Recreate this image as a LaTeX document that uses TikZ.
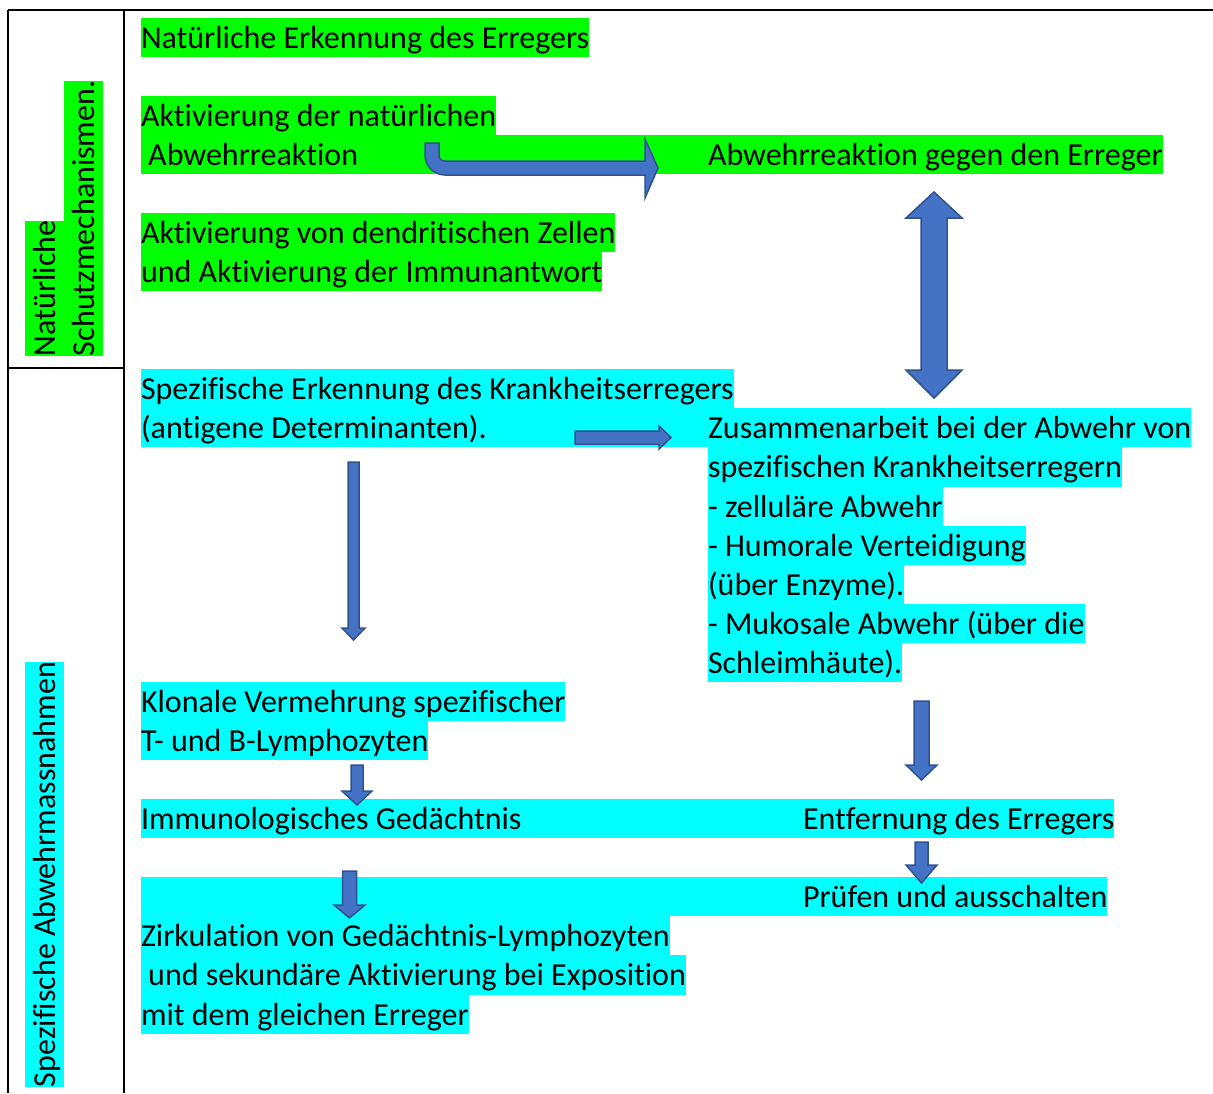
\documentclass[tikz,border=0pt]{standalone}
\usepackage{fontspec}
\setmainfont{Carlito}[Ligatures={NoCommon}]
\usetikzlibrary{backgrounds}
\definecolor{hlgreen}{RGB}{0,255,0}
\definecolor{hlcyan}{RGB}{0,255,255}
\definecolor{arrfill}{HTML}{4472C4}
\definecolor{arrline}{HTML}{2F528F}
\tikzset{
  txt/.style={inner sep=0pt, outer sep=0pt, anchor=base west, text height=30.5pt, text depth=8.6pt, font=\fontsize{32}{39}\selectfont},
  gtxt/.style={txt, fill=hlgreen},
  ctxt/.style={txt, fill=hlcyan},
  blockarrow/.style={fill=arrfill, draw=arrline, line width=1.5pt, line join=miter},
  rule/.style={line width=1.4pt, black}
}
\newcommand{\dnarr}[6]{% cx, shaft half, top, headbase, head half, tip
  \filldraw[blockarrow] ({#1-#2},#3) -- ({#1+#2},#3) -- ({#1+#2},#4) -- ({#1+#5},#4) -- (#1,#6) -- ({#1-#5},#4) -- ({#1-#2},#4) -- cycle;}
\begin{document}
\begin{tikzpicture}[x=1pt,y=-1pt]
\useasboundingbox (0,0) rectangle (1213,1093);
% table rules
\draw[rule] (8,10) -- (1213,10);
\draw[rule] (8,10) -- (8,1093);
\draw[rule] (124,10) -- (124,1093);
\draw[rule] (8,368) -- (124,368);
% row headers
\node[gtxt, rotate=90] (h1a) at (55.5,356) {Natürliche};
\node[gtxt, rotate=90] (h1b) at (94.5,356) {Schutzmechanismen.};
\node[ctxt, rotate=90] (h2) at (55.5,1087) {Spezifische Abwehrmassnahmen};
% green block
\node[gtxt] (g1) at (141,48) {Natürliche Erkennung des Erregers};
\node[gtxt] (g2) at (141,126.2) {Aktivierung der natürlichen};
\node[txt] (g3a) at (141,165.2) {\ Abwehrreaktion};
\node[txt] (g3b) at (708,165.2) {Abwehrreaktion gegen den Erreger};
\node[gtxt] (g4) at (141,243.4) {Aktivierung von dendritischen Zellen};
\node[gtxt] (g5) at (141,282.5) {und Aktivierung der Immunantwort};
% cyan block
\node[ctxt] (c1) at (141,399.7) {Spezifische Erkennung des Krankheitserregers};
\node[txt] (c2) at (141,438.8) {(antigene Determinanten).};
\node[txt] (r1) at (708,438.8) {Zusammenarbeit bei der Abwehr von};
\node[ctxt] (r2) at (708,477.9) {spezifischen Krankheitserregern};
\node[ctxt] (r3) at (708,517) {- zelluläre Abwehr};
\node[ctxt] (r4) at (708,556) {- Humorale Verteidigung};
\node[ctxt] (r5) at (708,595.1) {(über Enzyme).};
\node[ctxt] (r6) at (708,634.2) {- Mukosale Abwehr (über die};
\node[ctxt] (r7) at (708,673.3) {Schleimhäute).};
\node[ctxt] (k1) at (141,712.4) {Klonale Vermehrung spezifischer};
\node[ctxt] (k2) at (141,751.4) {T- und B-Lymphozyten};
\node[txt] (m1) at (141,829.6) {Immunologisches Gedächtnis};
\node[txt] (e1) at (803,829.6) {Entfernung des Erregers};
\coordinate (p0) at (141,907.8);
\node[txt] (p1) at (803,907.8) {Prüfen und ausschalten};
\node[ctxt] (z1) at (141,946.8) {Zirkulation von Gedächtnis-Lymphozyten};
\node[ctxt] (z2) at (141,985.9) {\ und sekundäre Aktivierung bei Exposition};
\node[ctxt] (z3) at (141,1025) {mit dem gleichen Erreger};
\begin{scope}[on background layer]
  \fill[white] (0,0) rectangle (1213,1093);
  \fill[hlgreen] (g3a.north west) rectangle (g3b.south east);
  \fill[hlcyan] (c2.north west) rectangle (r1.south east);
  \fill[hlcyan] (m1.north west) rectangle (e1.south east);
  \fill[hlcyan] (p0 |- p1.north) rectangle (p1.south east);
\end{scope}
% arrows
\filldraw[blockarrow] (425,143) -- (439,143) -- (439,155) .. controls (439,159) and (441,161) .. (445,161) -- (645,161) -- (645,139) -- (658,168) -- (645,198) -- (645,175) -- (445,175) .. controls (434,175) and (425,166) .. (425,155) -- cycle;
\filldraw[blockarrow] (934,192) -- (962,218) -- (947,218) -- (947,370) -- (962,370) -- (934,398) -- (906,370) -- (921,370) -- (921,218) -- (906,218) -- cycle;
\filldraw[blockarrow] (575,431) -- (659,431) -- (659,426) -- (671,437.5) -- (659,449) -- (659,444) -- (575,444) -- cycle;
\dnarr{353.5}{5.5}{462}{628}{11.5}{640}
\dnarr{357}{6}{765}{791}{15}{805}
\dnarr{349.5}{7}{871}{905}{15.5}{918}
\dnarr{921.5}{7.5}{701}{765}{15.5}{780}
\dnarr{921.5}{6.5}{842}{865}{15.5}{883}
\end{tikzpicture}
\end{document}
